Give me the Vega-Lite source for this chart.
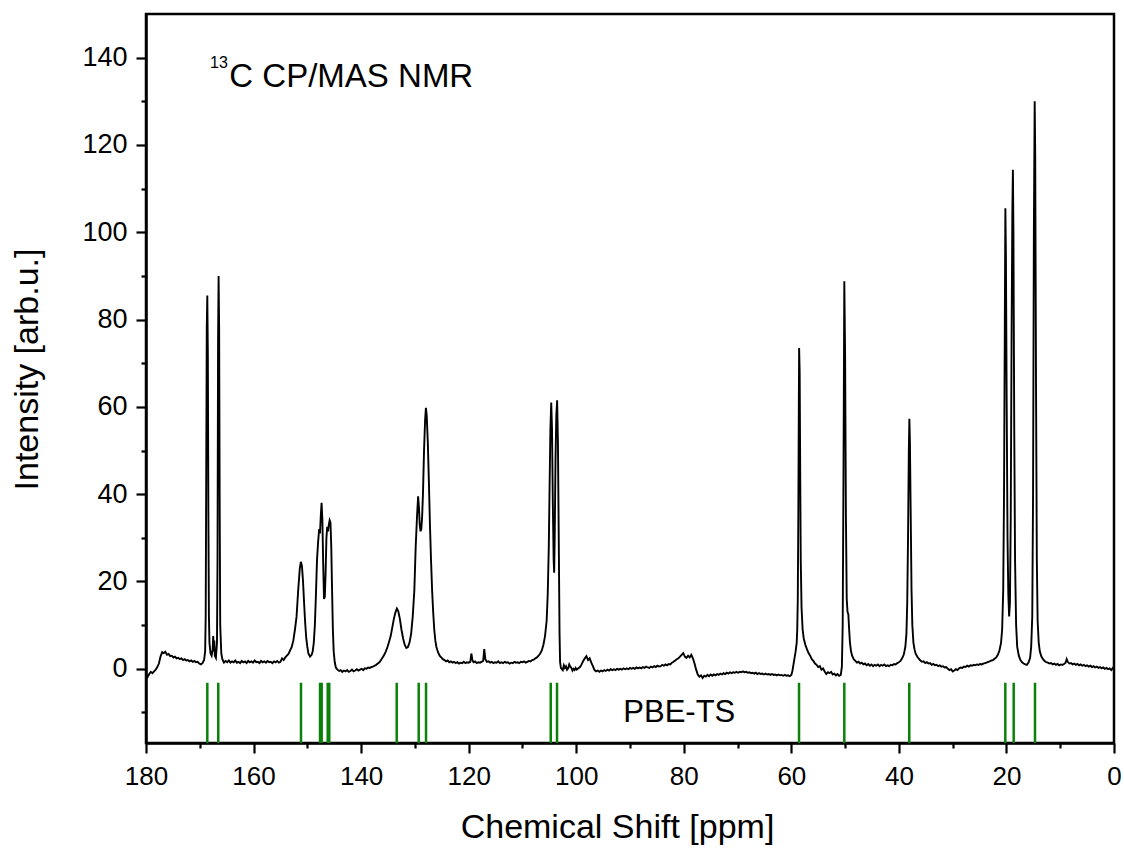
{
"$schema": "https://vega.github.io/schema/vega-lite/v6.json",
"width": 968,
"height": 729,
"autosize": {"type": "none"},
"padding": {"left": 146, "top": 14, "right": 10, "bottom": 105},
"background": "white",
"config": {
  "view": {"stroke": "black", "strokeWidth": 2.5},
  "font": "Liberation Sans",
  "axis": {"grid": false, "domainColor": "black", "tickColor": "black", "labelColor": "black", "titleColor": "black", "labelFont": "Liberation Sans", "titleFont": "Liberation Sans", "titleFontWeight": "normal", "domainWidth": 2.5, "tickWidth": 2.2}
},
"datasets": {
"spectrum": [
{"ppm":180.0,"intensity":-1.4},{"ppm":179.7,"intensity":-1.9},{"ppm":179.4,"intensity":-1.2},{"ppm":179.1,"intensity":-0.7},{"ppm":178.8,"intensity":-1.0},{"ppm":178.5,"intensity":-0.6},{"ppm":178.2,"intensity":-0.2},{"ppm":177.9,"intensity":0.4},{"ppm":177.6,"intensity":1.2},{"ppm":177.3,"intensity":2.8},{"ppm":177.0,"intensity":3.8},{"ppm":176.7,"intensity":3.6},{"ppm":176.4,"intensity":3.9},{"ppm":176.1,"intensity":3.2},{"ppm":175.8,"intensity":3.4},{"ppm":175.5,"intensity":2.9},{"ppm":175.2,"intensity":3.0},{"ppm":174.9,"intensity":2.6},{"ppm":174.6,"intensity":2.8},{"ppm":174.3,"intensity":2.4},{"ppm":174.0,"intensity":2.5},{"ppm":173.7,"intensity":2.2},{"ppm":173.4,"intensity":2.4},{"ppm":173.1,"intensity":2.0},{"ppm":172.8,"intensity":2.2},{"ppm":172.5,"intensity":1.9},{"ppm":172.2,"intensity":2.0},{"ppm":171.9,"intensity":1.7},{"ppm":171.6,"intensity":1.9},{"ppm":171.3,"intensity":1.6},{"ppm":171.0,"intensity":1.8},{"ppm":170.7,"intensity":1.5},{"ppm":170.4,"intensity":1.6},{"ppm":170.1,"intensity":1.2},{"ppm":169.8,"intensity":1.0},{"ppm":169.5,"intensity":1.3},{"ppm":169.2,"intensity":2.0},{"ppm":169.0,"intensity":4},{"ppm":168.9,"intensity":12},{"ppm":168.8,"intensity":45},{"ppm":168.7,"intensity":78},{"ppm":168.6,"intensity":85.5},{"ppm":168.5,"intensity":72},{"ppm":168.4,"intensity":35},{"ppm":168.3,"intensity":12},{"ppm":168.2,"intensity":6},{"ppm":168.0,"intensity":3.5},{"ppm":167.8,"intensity":3},{"ppm":167.6,"intensity":4.5},{"ppm":167.5,"intensity":7.5},{"ppm":167.4,"intensity":4},{"ppm":167.3,"intensity":6.5},{"ppm":167.2,"intensity":3},{"ppm":167.0,"intensity":2.5},{"ppm":166.8,"intensity":6},{"ppm":166.7,"intensity":25},{"ppm":166.6,"intensity":75},{"ppm":166.5,"intensity":90},{"ppm":166.4,"intensity":78},{"ppm":166.3,"intensity":38},{"ppm":166.2,"intensity":10},{"ppm":166.0,"intensity":3.5},{"ppm":165.8,"intensity":2.2},{"ppm":165.5,"intensity":1.4},{"ppm":165.2,"intensity":1.8},{"ppm":164.9,"intensity":1.5},{"ppm":164.6,"intensity":1.9},{"ppm":164.3,"intensity":1.4},{"ppm":164.0,"intensity":1.7},{"ppm":163.7,"intensity":1.5},{"ppm":163.4,"intensity":1.9},{"ppm":163.1,"intensity":1.4},{"ppm":162.8,"intensity":1.6},{"ppm":162.5,"intensity":1.3},{"ppm":162.2,"intensity":1.8},{"ppm":161.9,"intensity":1.5},{"ppm":161.6,"intensity":1.7},{"ppm":161.3,"intensity":1.3},{"ppm":161.0,"intensity":1.8},{"ppm":160.7,"intensity":1.5},{"ppm":160.4,"intensity":1.7},{"ppm":160.1,"intensity":1.4},{"ppm":159.8,"intensity":1.9},{"ppm":159.5,"intensity":1.5},{"ppm":159.2,"intensity":1.6},{"ppm":158.9,"intensity":1.3},{"ppm":158.6,"intensity":1.8},{"ppm":158.3,"intensity":1.5},{"ppm":158.0,"intensity":1.7},{"ppm":157.7,"intensity":1.4},{"ppm":157.4,"intensity":1.8},{"ppm":157.1,"intensity":1.5},{"ppm":156.8,"intensity":1.6},{"ppm":156.5,"intensity":1.3},{"ppm":156.2,"intensity":1.7},{"ppm":155.9,"intensity":1.5},{"ppm":155.6,"intensity":1.8},{"ppm":155.3,"intensity":1.4},{"ppm":155.0,"intensity":1.6},{"ppm":154.7,"intensity":2.4},{"ppm":154.4,"intensity":2.0},{"ppm":154.1,"intensity":2.6},{"ppm":153.8,"intensity":3.0},{"ppm":153.5,"intensity":3.4},{"ppm":153.2,"intensity":4.2},{"ppm":152.9,"intensity":5},{"ppm":152.6,"intensity":6.5},{"ppm":152.3,"intensity":9},{"ppm":152.0,"intensity":12},{"ppm":151.7,"intensity":18},{"ppm":151.4,"intensity":23},{"ppm":151.2,"intensity":24.5},{"ppm":151.0,"intensity":23.5},{"ppm":150.8,"intensity":20},{"ppm":150.6,"intensity":15},{"ppm":150.4,"intensity":10.5},{"ppm":150.2,"intensity":7},{"ppm":150.0,"intensity":5},{"ppm":149.8,"intensity":3.5},{"ppm":149.5,"intensity":2.8},{"ppm":149.2,"intensity":3.2},{"ppm":149.0,"intensity":4.0},{"ppm":148.8,"intensity":6},{"ppm":148.6,"intensity":10},{"ppm":148.4,"intensity":17},{"ppm":148.2,"intensity":25},{"ppm":148.0,"intensity":29},{"ppm":147.8,"intensity":32},{"ppm":147.65,"intensity":31},{"ppm":147.5,"intensity":35},{"ppm":147.35,"intensity":38},{"ppm":147.2,"intensity":34},{"ppm":147.05,"intensity":24},{"ppm":146.9,"intensity":16},{"ppm":146.75,"intensity":16.5},{"ppm":146.6,"intensity":22},{"ppm":146.45,"intensity":30},{"ppm":146.3,"intensity":32.5},{"ppm":146.15,"intensity":31.5},{"ppm":146.0,"intensity":33},{"ppm":145.85,"intensity":34},{"ppm":145.7,"intensity":33.5},{"ppm":145.55,"intensity":28},{"ppm":145.4,"intensity":18},{"ppm":145.25,"intensity":9},{"ppm":145.1,"intensity":4},{"ppm":144.9,"intensity":1.5},{"ppm":144.7,"intensity":0.3},{"ppm":144.4,"intensity":-0.2},{"ppm":144.1,"intensity":-0.5},{"ppm":143.8,"intensity":-0.3},{"ppm":143.5,"intensity":-0.7},{"ppm":143.2,"intensity":-0.4},{"ppm":142.9,"intensity":-0.6},{"ppm":142.6,"intensity":-0.3},{"ppm":142.3,"intensity":-0.7},{"ppm":142.0,"intensity":-0.5},{"ppm":141.7,"intensity":-0.2},{"ppm":141.4,"intensity":-0.6},{"ppm":141.1,"intensity":-0.4},{"ppm":140.8,"intensity":-0.1},{"ppm":140.5,"intensity":-0.4},{"ppm":140.2,"intensity":-0.2},{"ppm":139.9,"intensity":0.0},{"ppm":139.6,"intensity":-0.3},{"ppm":139.3,"intensity":0.1},{"ppm":139.0,"intensity":0.0},{"ppm":138.7,"intensity":0.3},{"ppm":138.4,"intensity":0.2},{"ppm":138.1,"intensity":0.4},{"ppm":137.8,"intensity":0.5},{"ppm":137.5,"intensity":0.7},{"ppm":137.2,"intensity":0.9},{"ppm":136.9,"intensity":1.2},{"ppm":136.6,"intensity":1.5},{"ppm":136.3,"intensity":2.0},{"ppm":136.0,"intensity":2.6},{"ppm":135.7,"intensity":3.2},{"ppm":135.4,"intensity":4.0},{"ppm":135.1,"intensity":5},{"ppm":134.8,"intensity":6.2},{"ppm":134.5,"intensity":7.5},{"ppm":134.2,"intensity":9.5},{"ppm":133.9,"intensity":11.5},{"ppm":133.6,"intensity":13},{"ppm":133.35,"intensity":13.8},{"ppm":133.1,"intensity":13.2},{"ppm":132.8,"intensity":11.5},{"ppm":132.5,"intensity":9},{"ppm":132.2,"intensity":7},{"ppm":131.9,"intensity":5.5},{"ppm":131.6,"intensity":4.8},{"ppm":131.3,"intensity":5},{"ppm":131.0,"intensity":6},{"ppm":130.7,"intensity":8},{"ppm":130.4,"intensity":12},{"ppm":130.1,"intensity":18},{"ppm":129.85,"intensity":28},{"ppm":129.6,"intensity":35},{"ppm":129.4,"intensity":39.5},{"ppm":129.25,"intensity":37},{"ppm":129.1,"intensity":33},{"ppm":128.95,"intensity":31.5},{"ppm":128.8,"intensity":32},{"ppm":128.65,"intensity":35},{"ppm":128.5,"intensity":40},{"ppm":128.3,"intensity":50},{"ppm":128.1,"intensity":57},{"ppm":127.95,"intensity":59.8},{"ppm":127.8,"intensity":58},{"ppm":127.6,"intensity":52},{"ppm":127.4,"intensity":43},{"ppm":127.2,"intensity":33},{"ppm":127.0,"intensity":25},{"ppm":126.8,"intensity":18},{"ppm":126.6,"intensity":13},{"ppm":126.4,"intensity":9},{"ppm":126.2,"intensity":6.5},{"ppm":126.0,"intensity":5},{"ppm":125.7,"intensity":3.8},{"ppm":125.4,"intensity":3.0},{"ppm":125.1,"intensity":2.6},{"ppm":124.8,"intensity":2.2},{"ppm":124.5,"intensity":2.0},{"ppm":124.2,"intensity":1.7},{"ppm":123.9,"intensity":1.9},{"ppm":123.6,"intensity":1.5},{"ppm":123.3,"intensity":1.7},{"ppm":123.0,"intensity":1.4},{"ppm":122.7,"intensity":1.6},{"ppm":122.4,"intensity":1.3},{"ppm":122.1,"intensity":1.5},{"ppm":121.8,"intensity":1.2},{"ppm":121.5,"intensity":1.4},{"ppm":121.2,"intensity":1.3},{"ppm":120.9,"intensity":1.6},{"ppm":120.6,"intensity":1.3},{"ppm":120.3,"intensity":1.5},{"ppm":120.0,"intensity":1.4},{"ppm":119.7,"intensity":1.6},{"ppm":119.5,"intensity":3.5},{"ppm":119.3,"intensity":2.0},{"ppm":119.1,"intensity":1.5},{"ppm":118.8,"intensity":1.7},{"ppm":118.5,"intensity":1.3},{"ppm":118.2,"intensity":1.5},{"ppm":117.9,"intensity":1.4},{"ppm":117.6,"intensity":1.6},{"ppm":117.3,"intensity":1.8},{"ppm":117.1,"intensity":4.5},{"ppm":116.9,"intensity":2.2},{"ppm":116.6,"intensity":1.6},{"ppm":116.3,"intensity":1.7},{"ppm":116.0,"intensity":1.4},{"ppm":115.7,"intensity":1.6},{"ppm":115.4,"intensity":1.3},{"ppm":115.1,"intensity":1.5},{"ppm":114.8,"intensity":1.4},{"ppm":114.5,"intensity":1.7},{"ppm":114.2,"intensity":1.3},{"ppm":113.9,"intensity":1.5},{"ppm":113.6,"intensity":1.3},{"ppm":113.3,"intensity":1.6},{"ppm":113.0,"intensity":1.4},{"ppm":112.7,"intensity":1.5},{"ppm":112.4,"intensity":1.2},{"ppm":112.1,"intensity":1.4},{"ppm":111.8,"intensity":1.3},{"ppm":111.5,"intensity":1.6},{"ppm":111.2,"intensity":1.4},{"ppm":110.9,"intensity":1.5},{"ppm":110.6,"intensity":1.3},{"ppm":110.3,"intensity":1.6},{"ppm":110.0,"intensity":1.5},{"ppm":109.7,"intensity":1.7},{"ppm":109.4,"intensity":1.4},{"ppm":109.1,"intensity":1.6},{"ppm":108.8,"intensity":1.8},{"ppm":108.5,"intensity":1.7},{"ppm":108.2,"intensity":2.0},{"ppm":107.9,"intensity":2.1},{"ppm":107.6,"intensity":2.4},{"ppm":107.3,"intensity":2.6},{"ppm":107.0,"intensity":3.0},{"ppm":106.7,"intensity":3.5},{"ppm":106.4,"intensity":4.2},{"ppm":106.1,"intensity":5.5},{"ppm":105.8,"intensity":7.5},{"ppm":105.5,"intensity":11},{"ppm":105.3,"intensity":17},{"ppm":105.1,"intensity":28},{"ppm":104.95,"intensity":42},{"ppm":104.8,"intensity":55},{"ppm":104.65,"intensity":61},{"ppm":104.5,"intensity":55},{"ppm":104.35,"intensity":38},{"ppm":104.2,"intensity":25},{"ppm":104.1,"intensity":22},{"ppm":104.0,"intensity":30},{"ppm":103.85,"intensity":48},{"ppm":103.7,"intensity":58},{"ppm":103.55,"intensity":61.5},{"ppm":103.4,"intensity":52},{"ppm":103.25,"intensity":30},{"ppm":103.1,"intensity":8},{"ppm":103.0,"intensity":1.5},{"ppm":102.85,"intensity":0.2},{"ppm":102.7,"intensity":0.0},{"ppm":102.5,"intensity":-0.3},{"ppm":102.3,"intensity":0.8},{"ppm":102.1,"intensity":0.2},{"ppm":101.9,"intensity":0.6},{"ppm":101.7,"intensity":-0.2},{"ppm":101.5,"intensity":0.1},{"ppm":101.3,"intensity":1.0},{"ppm":101.1,"intensity":0.5},{"ppm":100.9,"intensity":0.2},{"ppm":100.7,"intensity":-0.4},{"ppm":100.5,"intensity":0.0},{"ppm":100.3,"intensity":-0.3},{"ppm":100.1,"intensity":0.2},{"ppm":99.9,"intensity":-0.2},{"ppm":99.6,"intensity":0.1},{"ppm":99.3,"intensity":0.4},{"ppm":99.0,"intensity":1.0},{"ppm":98.7,"intensity":1.8},{"ppm":98.4,"intensity":2.4},{"ppm":98.1,"intensity":2.9},{"ppm":97.8,"intensity":2.0},{"ppm":97.5,"intensity":2.4},{"ppm":97.2,"intensity":1.4},{"ppm":96.9,"intensity":0.6},{"ppm":96.6,"intensity":-0.3},{"ppm":96.3,"intensity":-0.6},{"ppm":96.0,"intensity":-0.4},{"ppm":95.7,"intensity":-0.7},{"ppm":95.4,"intensity":-0.4},{"ppm":95.1,"intensity":-0.6},{"ppm":94.8,"intensity":-0.3},{"ppm":94.5,"intensity":-0.5},{"ppm":94.2,"intensity":-0.2},{"ppm":93.9,"intensity":-0.4},{"ppm":93.6,"intensity":-0.1},{"ppm":93.3,"intensity":-0.3},{"ppm":93.0,"intensity":-0.1},{"ppm":92.7,"intensity":-0.3},{"ppm":92.4,"intensity":0.0},{"ppm":92.1,"intensity":-0.2},{"ppm":91.8,"intensity":0.0},{"ppm":91.5,"intensity":-0.2},{"ppm":91.2,"intensity":0.1},{"ppm":90.9,"intensity":-0.1},{"ppm":90.6,"intensity":0.1},{"ppm":90.3,"intensity":-0.1},{"ppm":90.0,"intensity":0.2},{"ppm":89.7,"intensity":0.0},{"ppm":89.4,"intensity":0.2},{"ppm":89.1,"intensity":0.0},{"ppm":88.8,"intensity":0.3},{"ppm":88.5,"intensity":0.1},{"ppm":88.2,"intensity":0.3},{"ppm":87.9,"intensity":0.1},{"ppm":87.6,"intensity":0.4},{"ppm":87.3,"intensity":0.2},{"ppm":87.0,"intensity":0.5},{"ppm":86.7,"intensity":0.3},{"ppm":86.4,"intensity":0.2},{"ppm":86.1,"intensity":0.5},{"ppm":85.8,"intensity":0.3},{"ppm":85.5,"intensity":0.6},{"ppm":85.2,"intensity":0.4},{"ppm":84.9,"intensity":0.7},{"ppm":84.6,"intensity":0.5},{"ppm":84.3,"intensity":0.6},{"ppm":84.0,"intensity":0.9},{"ppm":83.7,"intensity":0.7},{"ppm":83.4,"intensity":1.0},{"ppm":83.1,"intensity":0.8},{"ppm":82.8,"intensity":1.1},{"ppm":82.5,"intensity":1.0},{"ppm":82.2,"intensity":1.4},{"ppm":81.9,"intensity":1.6},{"ppm":81.6,"intensity":1.9},{"ppm":81.3,"intensity":2.2},{"ppm":81.0,"intensity":2.4},{"ppm":80.7,"intensity":2.8},{"ppm":80.4,"intensity":3.2},{"ppm":80.1,"intensity":3.6},{"ppm":79.8,"intensity":2.8},{"ppm":79.5,"intensity":2.5},{"ppm":79.2,"intensity":3.0},{"ppm":78.9,"intensity":2.6},{"ppm":78.6,"intensity":3.2},{"ppm":78.3,"intensity":2.4},{"ppm":78.0,"intensity":1.2},{"ppm":77.7,"intensity":-0.2},{"ppm":77.4,"intensity":-1.3},{"ppm":77.1,"intensity":-1.8},{"ppm":76.8,"intensity":-1.5},{"ppm":76.5,"intensity":-2.1},{"ppm":76.2,"intensity":-1.6},{"ppm":75.9,"intensity":-1.8},{"ppm":75.6,"intensity":-1.4},{"ppm":75.3,"intensity":-1.7},{"ppm":75.0,"intensity":-1.3},{"ppm":74.7,"intensity":-1.6},{"ppm":74.4,"intensity":-1.3},{"ppm":74.1,"intensity":-1.5},{"ppm":73.8,"intensity":-1.2},{"ppm":73.5,"intensity":-1.4},{"ppm":73.2,"intensity":-1.1},{"ppm":72.9,"intensity":-1.3},{"ppm":72.6,"intensity":-1.0},{"ppm":72.3,"intensity":-1.2},{"ppm":72.0,"intensity":-0.9},{"ppm":71.7,"intensity":-1.1},{"ppm":71.4,"intensity":-0.8},{"ppm":71.1,"intensity":-1.0},{"ppm":70.8,"intensity":-0.8},{"ppm":70.5,"intensity":-0.9},{"ppm":70.2,"intensity":-0.7},{"ppm":69.9,"intensity":-0.9},{"ppm":69.6,"intensity":-0.7},{"ppm":69.3,"intensity":-0.8},{"ppm":69.0,"intensity":-0.6},{"ppm":68.7,"intensity":-0.8},{"ppm":68.4,"intensity":-0.7},{"ppm":68.1,"intensity":-0.9},{"ppm":67.8,"intensity":-0.8},{"ppm":67.5,"intensity":-1.0},{"ppm":67.2,"intensity":-0.9},{"ppm":66.9,"intensity":-1.1},{"ppm":66.6,"intensity":-0.9},{"ppm":66.3,"intensity":-1.2},{"ppm":66.0,"intensity":-1.0},{"ppm":65.7,"intensity":-1.2},{"ppm":65.4,"intensity":-1.1},{"ppm":65.1,"intensity":-1.3},{"ppm":64.8,"intensity":-1.1},{"ppm":64.5,"intensity":-1.3},{"ppm":64.2,"intensity":-1.2},{"ppm":63.9,"intensity":-1.4},{"ppm":63.6,"intensity":-1.2},{"ppm":63.3,"intensity":-1.4},{"ppm":63.0,"intensity":-1.3},{"ppm":62.7,"intensity":-1.5},{"ppm":62.4,"intensity":-1.3},{"ppm":62.1,"intensity":-1.5},{"ppm":61.8,"intensity":-1.4},{"ppm":61.5,"intensity":-1.6},{"ppm":61.2,"intensity":-1.4},{"ppm":60.9,"intensity":-1.6},{"ppm":60.6,"intensity":-1.5},{"ppm":60.3,"intensity":-1.7},{"ppm":60.0,"intensity":-1.4},{"ppm":59.8,"intensity":-0.5},{"ppm":59.6,"intensity":1.0},{"ppm":59.4,"intensity":2.5},{"ppm":59.2,"intensity":4},{"ppm":59.0,"intensity":6},{"ppm":58.9,"intensity":9},{"ppm":58.8,"intensity":16},{"ppm":58.7,"intensity":35},{"ppm":58.6,"intensity":62},{"ppm":58.55,"intensity":73.5},{"ppm":58.45,"intensity":68},{"ppm":58.35,"intensity":45},{"ppm":58.25,"intensity":25},{"ppm":58.1,"intensity":14},{"ppm":57.9,"intensity":9},{"ppm":57.7,"intensity":7},{"ppm":57.4,"intensity":5.5},{"ppm":57.1,"intensity":4.5},{"ppm":56.8,"intensity":3.6},{"ppm":56.5,"intensity":3.0},{"ppm":56.2,"intensity":2.2},{"ppm":55.9,"intensity":1.8},{"ppm":55.6,"intensity":1.2},{"ppm":55.3,"intensity":0.9},{"ppm":55.0,"intensity":0.4},{"ppm":54.7,"intensity":0.6},{"ppm":54.4,"intensity":-0.2},{"ppm":54.1,"intensity":0.1},{"ppm":53.8,"intensity":-0.6},{"ppm":53.5,"intensity":-1.2},{"ppm":53.2,"intensity":-0.8},{"ppm":52.9,"intensity":-1.0},{"ppm":52.6,"intensity":-0.7},{"ppm":52.3,"intensity":-1.3},{"ppm":52.0,"intensity":-1.1},{"ppm":51.7,"intensity":-1.5},{"ppm":51.4,"intensity":-1.2},{"ppm":51.1,"intensity":-1.6},{"ppm":50.8,"intensity":-1.4},{"ppm":50.6,"intensity":0.5},{"ppm":50.45,"intensity":10},{"ppm":50.3,"intensity":45},{"ppm":50.15,"intensity":88.8},{"ppm":50.0,"intensity":72},{"ppm":49.85,"intensity":35},{"ppm":49.7,"intensity":16},{"ppm":49.55,"intensity":13},{"ppm":49.4,"intensity":12.5},{"ppm":49.25,"intensity":9},{"ppm":49.1,"intensity":6},{"ppm":48.9,"intensity":4},{"ppm":48.7,"intensity":3},{"ppm":48.4,"intensity":2.2},{"ppm":48.1,"intensity":1.8},{"ppm":47.8,"intensity":1.4},{"ppm":47.5,"intensity":1.6},{"ppm":47.2,"intensity":1.2},{"ppm":46.9,"intensity":1.4},{"ppm":46.6,"intensity":1.0},{"ppm":46.3,"intensity":1.2},{"ppm":46.0,"intensity":0.8},{"ppm":45.7,"intensity":1.1},{"ppm":45.4,"intensity":0.7},{"ppm":45.1,"intensity":1.0},{"ppm":44.8,"intensity":0.6},{"ppm":44.5,"intensity":0.9},{"ppm":44.2,"intensity":0.7},{"ppm":43.9,"intensity":1.0},{"ppm":43.6,"intensity":0.6},{"ppm":43.3,"intensity":0.9},{"ppm":43.0,"intensity":0.7},{"ppm":42.7,"intensity":1.0},{"ppm":42.4,"intensity":0.6},{"ppm":42.1,"intensity":0.8},{"ppm":41.8,"intensity":0.6},{"ppm":41.5,"intensity":0.9},{"ppm":41.2,"intensity":0.8},{"ppm":40.9,"intensity":1.1},{"ppm":40.6,"intensity":1.0},{"ppm":40.3,"intensity":1.3},{"ppm":40.0,"intensity":1.5},{"ppm":39.7,"intensity":1.8},{"ppm":39.4,"intensity":2.4},{"ppm":39.1,"intensity":3.2},{"ppm":38.8,"intensity":5},{"ppm":38.6,"intensity":8},{"ppm":38.45,"intensity":15},{"ppm":38.3,"intensity":30},{"ppm":38.15,"intensity":50},{"ppm":38.05,"intensity":57.3},{"ppm":37.95,"intensity":52},{"ppm":37.8,"intensity":35},{"ppm":37.65,"intensity":18},{"ppm":37.5,"intensity":10},{"ppm":37.3,"intensity":6},{"ppm":37.1,"intensity":4.5},{"ppm":36.9,"intensity":3.5},{"ppm":36.6,"intensity":2.8},{"ppm":36.3,"intensity":2.3},{"ppm":36.0,"intensity":1.9},{"ppm":35.7,"intensity":1.6},{"ppm":35.4,"intensity":1.7},{"ppm":35.1,"intensity":1.3},{"ppm":34.8,"intensity":1.5},{"ppm":34.5,"intensity":1.2},{"ppm":34.2,"intensity":1.3},{"ppm":33.9,"intensity":0.9},{"ppm":33.6,"intensity":1.1},{"ppm":33.3,"intensity":0.8},{"ppm":33.0,"intensity":0.9},{"ppm":32.7,"intensity":0.6},{"ppm":32.4,"intensity":0.8},{"ppm":32.1,"intensity":0.5},{"ppm":31.8,"intensity":0.6},{"ppm":31.5,"intensity":0.3},{"ppm":31.2,"intensity":0.4},{"ppm":30.9,"intensity":0.0},{"ppm":30.6,"intensity":-0.3},{"ppm":30.3,"intensity":-0.1},{"ppm":30.0,"intensity":-0.6},{"ppm":29.7,"intensity":-0.4},{"ppm":29.4,"intensity":-0.1},{"ppm":29.1,"intensity":-0.3},{"ppm":28.8,"intensity":0.1},{"ppm":28.5,"intensity":0.3},{"ppm":28.2,"intensity":0.2},{"ppm":27.9,"intensity":0.5},{"ppm":27.6,"intensity":0.4},{"ppm":27.3,"intensity":0.7},{"ppm":27.0,"intensity":0.5},{"ppm":26.7,"intensity":0.8},{"ppm":26.4,"intensity":0.7},{"ppm":26.1,"intensity":0.9},{"ppm":25.8,"intensity":0.8},{"ppm":25.5,"intensity":1.0},{"ppm":25.2,"intensity":0.9},{"ppm":24.9,"intensity":1.1},{"ppm":24.6,"intensity":1.0},{"ppm":24.3,"intensity":1.2},{"ppm":24.0,"intensity":1.3},{"ppm":23.7,"intensity":1.4},{"ppm":23.4,"intensity":1.6},{"ppm":23.1,"intensity":1.7},{"ppm":22.8,"intensity":1.9},{"ppm":22.5,"intensity":2.0},{"ppm":22.2,"intensity":2.3},{"ppm":21.9,"intensity":2.6},{"ppm":21.6,"intensity":3.2},{"ppm":21.3,"intensity":4.2},{"ppm":21.0,"intensity":6},{"ppm":20.8,"intensity":9},{"ppm":20.6,"intensity":18},{"ppm":20.45,"intensity":40},{"ppm":20.3,"intensity":80},{"ppm":20.2,"intensity":105.5},{"ppm":20.1,"intensity":95},{"ppm":19.95,"intensity":60},{"ppm":19.8,"intensity":30},{"ppm":19.65,"intensity":17},{"ppm":19.5,"intensity":12},{"ppm":19.35,"intensity":15},{"ppm":19.2,"intensity":35},{"ppm":19.05,"intensity":75},{"ppm":18.9,"intensity":105},{"ppm":18.8,"intensity":114.3},{"ppm":18.7,"intensity":100},{"ppm":18.55,"intensity":55},{"ppm":18.4,"intensity":25},{"ppm":18.2,"intensity":10},{"ppm":18.0,"intensity":5},{"ppm":17.7,"intensity":3},{"ppm":17.4,"intensity":2},{"ppm":17.1,"intensity":1.5},{"ppm":16.8,"intensity":1.2},{"ppm":16.5,"intensity":1.0},{"ppm":16.2,"intensity":0.9},{"ppm":15.9,"intensity":1.4},{"ppm":15.6,"intensity":2.5},{"ppm":15.4,"intensity":5},{"ppm":15.2,"intensity":12},{"ppm":15.05,"intensity":40},{"ppm":14.9,"intensity":100},{"ppm":14.75,"intensity":130},{"ppm":14.65,"intensity":118},{"ppm":14.5,"intensity":65},{"ppm":14.35,"intensity":25},{"ppm":14.2,"intensity":11},{"ppm":14.0,"intensity":6},{"ppm":13.8,"intensity":4},{"ppm":13.5,"intensity":2.8},{"ppm":13.2,"intensity":2.2},{"ppm":12.9,"intensity":1.8},{"ppm":12.6,"intensity":1.5},{"ppm":12.3,"intensity":1.4},{"ppm":12.0,"intensity":1.2},{"ppm":11.7,"intensity":1.3},{"ppm":11.4,"intensity":1.0},{"ppm":11.1,"intensity":1.2},{"ppm":10.8,"intensity":0.9},{"ppm":10.5,"intensity":1.1},{"ppm":10.2,"intensity":0.8},{"ppm":9.9,"intensity":1.0},{"ppm":9.6,"intensity":0.9},{"ppm":9.3,"intensity":1.1},{"ppm":9.0,"intensity":1.4},{"ppm":8.8,"intensity":2.2},{"ppm":8.6,"intensity":1.6},{"ppm":8.3,"intensity":1.2},{"ppm":8.0,"intensity":1.3},{"ppm":7.7,"intensity":1.0},{"ppm":7.4,"intensity":1.2},{"ppm":7.1,"intensity":0.9},{"ppm":6.8,"intensity":1.1},{"ppm":6.5,"intensity":0.8},{"ppm":6.2,"intensity":1.0},{"ppm":5.9,"intensity":0.7},{"ppm":5.6,"intensity":0.9},{"ppm":5.3,"intensity":0.6},{"ppm":5.0,"intensity":0.8},{"ppm":4.7,"intensity":0.5},{"ppm":4.4,"intensity":0.7},{"ppm":4.1,"intensity":0.4},{"ppm":3.8,"intensity":0.6},{"ppm":3.5,"intensity":0.3},{"ppm":3.2,"intensity":0.5},{"ppm":2.9,"intensity":0.2},{"ppm":2.6,"intensity":0.4},{"ppm":2.3,"intensity":0.1},{"ppm":2.0,"intensity":0.3},{"ppm":1.7,"intensity":0.0},{"ppm":1.4,"intensity":0.2},{"ppm":1.1,"intensity":-0.1},{"ppm":0.8,"intensity":0.1},{"ppm":0.5,"intensity":-0.3},{"ppm":0.2,"intensity":0.2},{"ppm":0.0,"intensity":0.5}
],
"sticks": [
{"ppm":168.6},{"ppm":166.56},{"ppm":151.18},{"ppm":147.64},{"ppm":147.33},{"ppm":146.21},{"ppm":145.92},{"ppm":133.38},{"ppm":129.29},{"ppm":127.93},{"ppm":104.74},{"ppm":103.57},{"ppm":58.57},{"ppm":50.15},{"ppm":38.07},{"ppm":20.21},{"ppm":18.65},{"ppm":14.69}
]
},
"layer": [
  {
    "data": {"name": "spectrum"},
    "mark": {"type": "line", "color": "black", "strokeWidth": 1.9},
    "encoding": {
      "x": {"field": "ppm", "type": "quantitative", "scale": {"domain": [180, 0], "nice": false, "zero": false},
            "axis": {"orient": "bottom", "values": [0,20,40,60,80,100,120,140,160,180], "format": "d", "tickSize": 10, "labelFontSize": 26, "labelPadding": 10, "labelFlush": false, "labelOverlap": false,
                     "title": "Chemical Shift [ppm]", "titleFontSize": 34, "titleX": 471, "titleY": 94, "titleAlign": "center", "titleBaseline": "alphabetic"}},
      "y": {"field": "intensity", "type": "quantitative", "scale": {"domain": [-17, 150], "nice": false, "zero": false},
            "axis": {"orient": "left", "values": [0,20,40,60,80,100,120,140], "format": "d", "tickSize": 10, "labelFontSize": 27, "labelPadding": 9, "labelFlush": false, "labelOverlap": false,
                     "title": "Intensity [arb.u.]", "titleFontSize": 34, "titleAngle": 270, "titleX": -109, "titleY": 355, "titleAlign": "center", "titleBaseline": "alphabetic"}}
    }
  },
  {
    "data": {"name": "sticks"},
    "mark": {"type": "rule", "color": "#0a820a", "strokeWidth": 2.5},
    "encoding": {
      "x": {"field": "ppm", "type": "quantitative",
            "axis": {"orient": "bottom", "values": [10,30,50,70,90,110,130,150,170], "tickSize": 5, "labels": false, "domain": false, "title": null}},
      "y": {"datum": -3.2, "type": "quantitative",
            "axis": {"orient": "left", "values": [-10,10,30,50,70,90,110,130], "tickSize": 5, "labels": false, "domain": false, "title": null}},
      "y2": {"datum": -17}
    }
  },
  {
    "data": {"values": [{"label": "13"}]},
    "mark": {"type": "text", "fontSize": 16, "align": "left", "baseline": "alphabetic", "color": "black", "font": "Liberation Sans"},
    "encoding": {
      "x": {"datum": 168.1, "type": "quantitative", "axis": null},
      "y": {"datum": 137.56, "type": "quantitative", "axis": null},
      "text": {"field": "label"}
    }
  },
  {
    "data": {"values": [{"label": "C CP/MAS NMR"}]},
    "mark": {"type": "text", "fontSize": 33, "align": "left", "baseline": "alphabetic", "color": "black", "font": "Liberation Sans"},
    "encoding": {
      "x": {"datum": 164.5, "type": "quantitative", "axis": null},
      "y": {"datum": 133.2, "type": "quantitative", "axis": null},
      "text": {"field": "label"}
    }
  },
  {
    "data": {"values": [{"label": "PBE-TS"}]},
    "mark": {"type": "text", "fontSize": 31, "align": "center", "baseline": "alphabetic", "color": "black", "font": "Liberation Sans"},
    "encoding": {
      "x": {"datum": 80.83, "type": "quantitative", "axis": null},
      "y": {"datum": -12.12, "type": "quantitative", "axis": null},
      "text": {"field": "label"}
    }
  }
],
"resolve": {"axis": {"x": "independent", "y": "independent"}}
}
